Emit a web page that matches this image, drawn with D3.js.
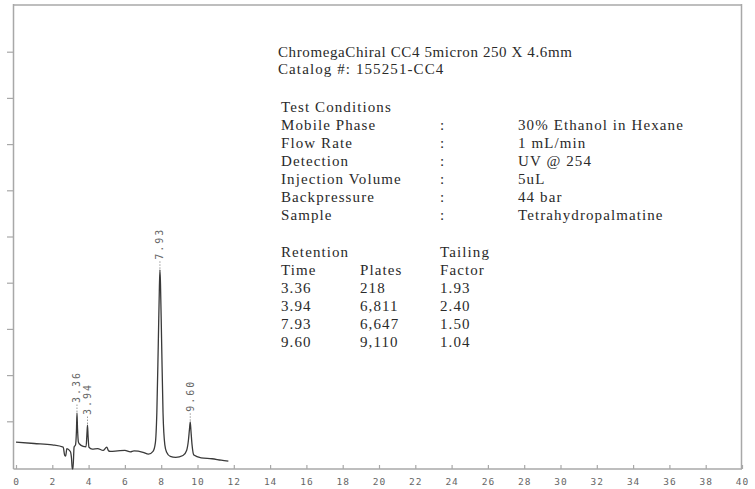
<!DOCTYPE html>
<html><head><meta charset="utf-8">
<script src="https://cdn.jsdelivr.net/npm/d3@7"></script>
<style>
html,body{margin:0;padding:0;background:#fff;}
svg{display:block;}
</style></head>
<body>
<svg id="chart" width="755" height="489"></svg>
<script>
// ---- data ----
const traceTime = [0,1,2,2.6,2.68,2.74,2.8,2.86,3.0,3.06,3.1,3.14,3.2,3.28,3.33,3.36,3.39,3.44,3.5,3.7,3.86,3.91,3.94,3.97,4.02,4.2,4.5,4.8,5.0,5.1,5.2,5.6,6.0,6.3,6.5,7.0,7.3,7.55,7.68,7.76,7.84,7.9,7.93,7.96,8.02,8.1,8.2,8.3,8.5,8.8,9.2,9.4,9.5,9.56,9.6,9.64,9.7,9.8,10.2,10.8,11.3,11.7];
const traceSignal = [5.6,5.3,5.0,4.5,2.8,2.6,4.2,4.1,3.5,2.0,-0.2,-0.2,4.5,5.0,8.0,11.9,8.5,5.6,5.2,4.7,4.6,7.5,9.3,7.0,4.5,4.1,4.2,3.8,4.5,3.7,3.6,3.7,3.8,3.5,3.7,3.4,3.0,3.6,5.5,12.0,27.0,39.0,42.9,40.0,28.0,12.0,5.0,3.4,2.5,2.3,2.7,3.8,6.0,8.5,10.0,8.0,5.0,2.8,2.2,2.0,1.7,1.5];
const peakTimes = [3.36, 3.94, 7.93, 9.60];
const peakHeights = [11.9, 9.3, 42.9, 10.0];
const peakLabels = ["3.36", "3.94", "7.93", "9.60"];
const xTicks = [0,2,4,6,8,10,12,14,16,18,20,22,24,26,28,30,32,34,36,38,40];
const yTicks = [10,20,30,40,50,60,70,80,90];

const titleLines = ["ChromegaChiral CC4 5micron 250 X 4.6mm", "Catalog #: 155251-CC4"];
const conditionsHeader = "Test Conditions";
const conditionLabels = ["Mobile Phase","Flow Rate","Detection","Injection Volume","Backpressure","Sample"];
const conditionValues = ["30% Ethanol in Hexane","1 mL/min","UV @ 254","5uL","44 bar","Tetrahydropalmatine"];
const tableHeader1 = ["Retention", "", "Tailing"];
const tableHeader2 = ["Time", "Plates", "Factor"];
const retentionTimes = ["3.36","3.94","7.93","9.60"];
const plates = ["218","6,811","6,647","9,110"];
const tailing = ["1.93","2.40","1.50","1.04"];

// ---- drawing ----
const svg = d3.select("#chart");
const x = d3.scaleLinear().domain([0,40]).range([16,742]);
const y = d3.scaleLinear().domain([0,100]).range([468,6]);

const frameColor = "#a8a8a8";
svg.append("line").attr("x1",13.5).attr("x2",742).attr("y1",5).attr("y2",5).attr("stroke",frameColor).attr("stroke-width",1.5);
svg.append("line").attr("x1",741.5).attr("x2",741.5).attr("y1",4).attr("y2",469).attr("stroke",frameColor).attr("stroke-width",1.5);
svg.append("line").attr("x1",13.5).attr("x2",13.5).attr("y1",4).attr("y2",469).attr("stroke",frameColor).attr("stroke-width",1.5);

svg.selectAll(".ytick").data(yTicks).join("line")
  .attr("x1",7).attr("x2",13.5)
  .attr("y1",d=>y(d)).attr("y2",d=>y(d))
  .attr("stroke",frameColor).attr("stroke-width",1.2);

const xAxis = d3.axisBottom(x).tickValues(xTicks).tickSizeInner(-4).tickSizeOuter(0).tickPadding(9);
const gx = svg.append("g").attr("transform","translate(0,469)").call(xAxis);
gx.select(".domain").attr("stroke",frameColor).attr("stroke-width",1.5).attr("d","M13.5,0H742");
gx.selectAll(".tick line").attr("stroke",frameColor).attr("stroke-width",1.2);
gx.selectAll(".tick text").attr("fill","#666").attr("font-family","'DejaVu Sans Mono', monospace").attr("font-size",9.5).attr("letter-spacing",1);

const pts = traceTime.map((t,i)=>[t, traceSignal[i]]);
const line = d3.line().x(d=>x(d[0])).y(d=>y(d[1])).curve(d3.curveMonotoneX);
svg.append("path").attr("d",line(pts)).attr("fill","none").attr("stroke","#3a3a3a").attr("stroke-width",1.3);

peakTimes.forEach((t,i)=>{
  const px = x(t), py = y(peakHeights[i]);
  const gap = 9;
  const top = py - gap;
  svg.append("line").attr("x1",px).attr("x2",px).attr("y1",py-1).attr("y2",top)
    .attr("stroke","#999").attr("stroke-width",1).attr("stroke-dasharray","1.5,1.5");
  svg.append("text")
    .attr("transform",`translate(${px+3.5},${top-1}) rotate(-90)`)
    .attr("font-family","'DejaVu Sans Mono', monospace").attr("font-size",10)
    .attr("letter-spacing",2)
    .attr("fill","#666")
    .text(peakLabels[i]);
});

const tFont = "'Liberation Serif', 'DejaVu Serif', serif";
const fs = 15;
const txtColor = "#2a2a2a";
function T(xp, yp, s, ls){
  return svg.append("text").attr("x",xp).attr("y",yp).attr("font-family",tFont).attr("font-size",fs)
    .attr("letter-spacing",ls === undefined ? 1.1 : ls).attr("fill",txtColor).text(s);
}
const titleSpacing = [0.6, 1.1];
titleLines.forEach((s,i)=>T(278, 57 + i*17, s, titleSpacing[i]));
T(281, 112, conditionsHeader);
conditionLabels.forEach((s,i)=>{
  T(281, 130 + i*18, s);
  T(440, 130 + i*18, ":");
  T(518, 130 + i*18, conditionValues[i]);
});
const colX = [281, 360, 440];
tableHeader1.forEach((s,j)=>{ if(s) T(colX[j], 257, s); });
tableHeader2.forEach((s,j)=>T(colX[j], 275, s));
retentionTimes.forEach((s,i)=>{
  T(colX[0], 293 + i*18, s);
  T(colX[1], 293 + i*18, plates[i]);
  T(colX[2], 293 + i*18, tailing[i]);
});
</script>
</body></html>
